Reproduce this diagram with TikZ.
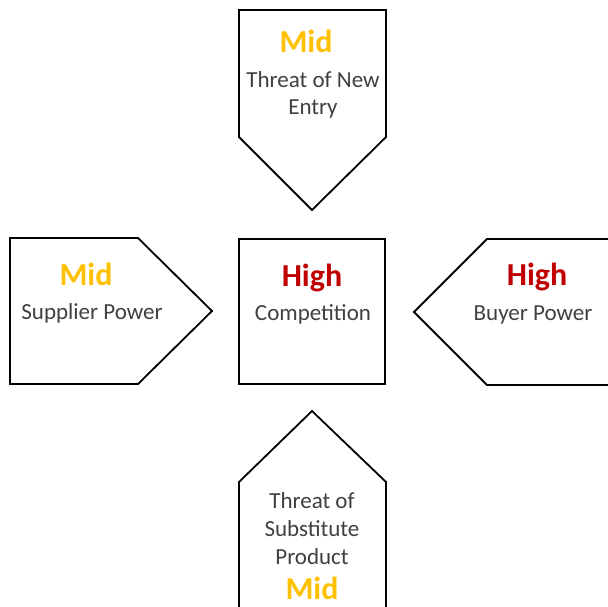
\documentclass[tikz,border=0pt]{standalone}
\usepackage{fontspec}
\setmainfont{Carlito}
\definecolor{midcol}{HTML}{FFC000}
\definecolor{highcol}{HTML}{C00000}
\definecolor{txtcol}{HTML}{404040}
\tikzset{
  force/.style={draw=black, line width=1.8pt, fill=white, line join=miter},
  level/.style={anchor=base, inner sep=0pt, font=\fontsize{32}{36}\selectfont\bfseries},
  midlvl/.style={level, text=midcol},
  highlvl/.style={level, text=highcol},
  desc/.style={anchor=base, text=txtcol, font=\fontsize{23}{28}\selectfont, inner sep=0pt},
}
\begin{document}
\begin{tikzpicture}[x=1pt, y=-1pt]
\useasboundingbox (0,0) rectangle (608,606);
% threat of new entry (pointing down)
\draw[force] (239,10) -- (386,10) -- (386,137) -- (312,210) -- (239,137) -- cycle;
% supplier power (pointing right)
\draw[force] (10,238) -- (138,238) -- (212,311) -- (138,384) -- (10,384) -- cycle;
% competition
\draw[force] (239,239) rectangle (385,384);
% buyer power (pointing left, runs off the right edge)
\draw[force] (620,239) -- (487,239) -- (414,312) -- (487,385) -- (620,385);
% threat of substitutes (pointing up, runs off the bottom)
\draw[force] (239,620) -- (239,482) -- (312,411) -- (386,482) -- (386,620);

\node[midlvl] (newlvl) at (306,52) {Mid};
\node[desc] (newa) at (313,87) {Threat of New};
\node[desc] (newb) at (313,114) {Entry};

\node[midlvl] (suplvl) at (86,285) {Mid};
\node[desc] (sup) at (92,319) {Supplier Power};

\node[highlvl] (complvl) at (312,286) {High};
\node[desc] (comp) at (313,320) {Competition};

\node[highlvl] (buylvl) at (537,285) {High};
\node[desc] (buy) at (533,320) {Buyer Power};

\node[desc] (suba) at (312,508) {Threat of};
\node[desc] (subb) at (312,536) {Substitute};
\node[desc] (subc) at (312,564) {Product};
\node[midlvl] (sublvl) at (312,599) {Mid};
\end{tikzpicture}
\end{document}
